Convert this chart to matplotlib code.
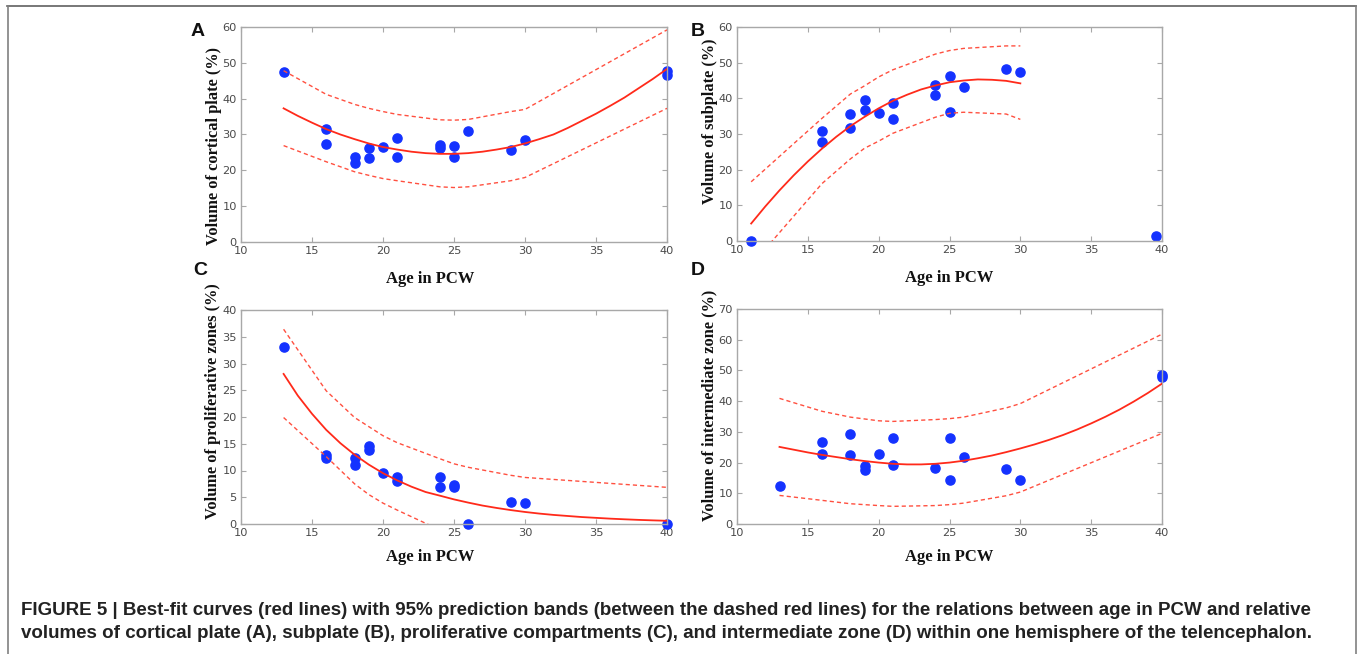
import matplotlib
matplotlib.use("Agg")
import matplotlib.pyplot as plt
from matplotlib.lines import Line2D

W, H = 1358, 654

# ---------------- data ----------------
# Panel A: cortical plate
age_A = [13, 16, 16, 18, 18, 19, 19, 20, 21, 21, 24, 24, 25, 25, 26, 29, 30, 40, 40]
cp_A = [47.5, 31.5, 27.3, 23.7, 22.0, 26.3, 23.5, 26.4, 29.0, 23.8, 27.0, 26.3,
        26.9, 23.8, 31.0, 25.6, 28.6, 47.8, 46.5]
fitx_A = list(range(13, 41))
fity_A = [37.3, 35.2, 33.3, 31.5, 30.0, 28.7, 27.5, 26.5, 25.8, 25.2, 24.8, 24.6,
          24.6, 24.8, 25.2, 25.8, 26.5, 27.5, 28.7, 30.0, 31.8, 33.8, 35.8, 38.0,
          40.3, 42.9, 45.5, 48.3]
bandx_A = [13, 16, 18, 19, 20, 21, 24, 25, 26, 29, 30, 40]
upper_A = [47.8, 41.2, 38.4, 37.3, 36.4, 35.6, 34.1, 34.0, 34.2, 36.4, 37.0, 59.2]
lower_A = [26.9, 22.4, 19.6, 18.6, 17.7, 17.1, 15.4, 15.2, 15.4, 17.1, 18.0, 37.3]

# Panel B: subplate
age_B = [11, 16, 16, 18, 18, 19, 19, 20, 21, 21, 24, 24, 25, 25, 26, 29, 30, 39.6]
sp_B = [0.0, 30.9, 27.8, 35.5, 31.6, 39.6, 36.75, 36.0, 38.6, 34.2, 43.8, 41.0,
        46.2, 36.1, 43.3, 48.2, 47.3, 1.3]
fitx_B = list(range(11, 31))
fity_B = [4.9, 9.7, 14.2, 18.4, 22.3, 25.9, 29.2, 32.2, 34.8, 37.2, 39.3, 41.0,
          42.5, 43.6, 44.5, 45.0, 45.3, 45.2, 44.9, 44.2]
bandx_B = [11, 16, 18, 19, 20, 21, 24, 25, 26, 29, 30]
upper_B = [16.6, 34.4, 41.2, 43.5, 46.0, 48.0, 52.4, 53.4, 54.0, 54.7, 54.7]
lower_B = [-6.8, 16.1, 23.0, 26.0, 28.0, 30.2, 34.7, 35.8, 36.1, 35.6, 34.1]

# Panel C: proliferative zones
age_C = [13, 16, 16, 18, 18, 19, 19, 20, 21, 21, 24, 24, 25, 25, 26, 29, 30, 40]
pz_C = [33.1, 12.9, 12.25, 12.25, 11.1, 14.5, 13.75, 9.45, 8.7, 8.0, 8.7, 6.85,
        7.3, 7.0, 0.0, 4.1, 3.85, 0.0]
fitx_C = list(range(13, 41))
fity_C = [28.05, 24.0, 20.6, 17.6, 15.1, 12.95, 11.1, 9.5, 8.15, 6.98, 5.98, 5.3,
          4.6, 4.0, 3.45, 3.0, 2.6, 2.25, 1.95, 1.7, 1.5, 1.3, 1.15, 1.0, 0.88,
          0.77, 0.68, 0.6]
bandx_C = [13, 16, 18, 19, 20, 21, 24, 25, 26, 29, 30, 40]
upper_C = [36.4, 24.9, 19.9, 18.2, 16.5, 15.2, 12.2, 11.25, 10.6, 9.1, 8.7, 6.85]
lower_C = [19.9, 12.6, 7.5, 5.5, 3.9, 2.6, -1.1, -1.6, -2.2, -3.6, -4.0, -5.8]

# Panel D: intermediate zone
age_D = [13, 16, 16, 18, 18, 19, 19, 20, 21, 21, 24, 25, 25, 26, 29, 30, 40, 40]
iz_D = [12.3, 26.7, 22.8, 29.4, 22.35, 18.8, 17.5, 22.8, 28.0, 19.2, 18.3, 27.9,
        14.2, 21.7, 17.9, 14.2, 48.4, 47.9]
fitx_D = list(range(13, 41))
fity_D = [25.1, 24.2, 23.3, 22.5, 21.8, 21.1, 20.5, 20.0, 19.6, 19.4, 19.4, 19.6,
          20.0, 20.6, 21.4, 22.3, 23.4, 24.6, 25.9, 27.35, 28.95, 30.75, 32.75,
          34.9, 37.25, 39.85, 42.65, 45.7]
bandx_D = [13, 16, 18, 19, 20, 21, 24, 25, 26, 29, 30, 40]
upper_D = [40.9, 36.7, 34.8, 34.2, 33.6, 33.4, 34.0, 34.3, 34.8, 37.8, 39.2, 61.8]
lower_D = [9.3, 7.7, 6.6, 6.3, 6.0, 5.75, 6.0, 6.3, 6.8, 9.2, 10.4, 29.5]

xticks = [10, 15, 20, 25, 30, 35, 40]
ylabels = ["Volume of cortical plate (%)", "Volume of subplate (%)",
           "Volume of proliferative zones (%)", "Volume of intermediate zone (%)"]
letters = ["A", "B", "C", "D"]
caption = ("FIGURE 5 | Best-fit curves (red lines) with 95% prediction bands (between the dashed red lines) "
           "for the relations between age in PCW and relative\n"
           "volumes of cortical plate (A), subplate (B), proliferative compartments (C), and intermediate "
           "zone (D) within one hemisphere of the telencephalon.")

# ---------------- figure ----------------
fig = plt.figure(figsize=(W / 100, H / 100), dpi=100)


def fx(px):
    return px / W


def fy(py):
    return 1 - py / H


# axes boxes in pixels: left, top, right, bottom
boxes = [(241, 27, 667, 242), (737, 27, 1162, 241),
         (241, 310, 667, 524), (737, 309, 1162, 524)]
ylims = [(0, 60, 10), (0, 60, 10), (0, 40, 5), (0, 70, 10)]
ylab_pos = [(-0.045, 0.447), (-0.045, 0.56), (-0.047, 0.575), (-0.047, 0.553)]
xlab_pos = [(0.444, -0.137), (0.5, -0.137), (0.444, -0.117), (0.5, -0.117)]
letter_pos = [(198, 32), (698, 32), (200, 271), (698, 271)]

panels = [
    (age_A, cp_A, fitx_A, fity_A, bandx_A, upper_A, lower_A),
    (age_B, sp_B, fitx_B, fity_B, bandx_B, upper_B, lower_B),
    (age_C, pz_C, fitx_C, fity_C, bandx_C, upper_C, lower_C),
    (age_D, iz_D, fitx_D, fity_D, bandx_D, upper_D, lower_D),
]

blue = "#1432ff"
red = "#ff2a1a"
dred = "#ff5040"
spine_c = "#a8a8a8"

for i, (ages, vals, fxs, fys, bx, up, lo) in enumerate(panels):
    l, t, r, b = boxes[i]
    ax = fig.add_axes([fx(l), fy(b), (r - l) / W, (b - t) / H])
    ax.plot(ages, vals, "o", color=blue, ms=6.6, mec=blue, zorder=2, clip_on=False)
    ax.plot(fxs, fys, "-", color=red, lw=1.3, zorder=3)
    ax.plot(bx, up, "--", color=dred, lw=1.0, dashes=(3, 2.2), zorder=3)
    ax.plot(bx, lo, "--", color=dred, lw=1.0, dashes=(3, 2.2), zorder=3)
    y0, y1, ys = ylims[i]
    ax.set_xlim(10, 40)
    ax.set_ylim(y0, y1)
    ax.set_xticks(xticks)
    ax.set_yticks(list(range(y0, y1 + 1, ys)))
    ax.tick_params(direction="in", top=True, right=True, length=3.5, width=0.8,
                   color=spine_c, labelcolor="#4a4a4a", labelsize=8.2, pad=3)
    for lab in ax.get_xticklabels() + ax.get_yticklabels():
        lab.set_fontfamily("DejaVu Sans")
    for s in ax.spines.values():
        s.set_color(spine_c)
        s.set_linewidth(1.0)
    ax.set_xlabel("Age in PCW", family="Liberation Serif", fontweight="bold",
                  fontsize=12, color="#111111")
    ax.xaxis.set_label_coords(*xlab_pos[i])
    ax.set_ylabel(ylabels[i], family="Liberation Serif", fontweight="bold",
                  fontsize=11.8, color="#111111")
    ax.yaxis.set_label_coords(*ylab_pos[i])
    lx, ly = letter_pos[i]
    fig.text(fx(lx), fy(ly), letters[i], family="Liberation Sans", fontweight="bold",
             fontsize=14, ha="center", va="center", color="#111111")

fig.text(fx(21), fy(602), caption, family="Liberation Sans", fontweight="bold",
         fontsize=13.5, ha="left", va="top", color="#222222", linespacing=1.47)

# outer frame (top, left, right)
frame_c = "#808080"
fig.add_artist(Line2D([fx(7), fx(1356)], [fy(6), fy(6)], color="#606060", lw=1.2))
fig.add_artist(Line2D([fx(7.5), fx(7.5)], [fy(6), fy(654)], color=frame_c, lw=1.2))
fig.add_artist(Line2D([fx(1355.5), fx(1355.5)], [fy(6), fy(654)], color=frame_c, lw=1.2))

fig.savefig("out.png", dpi=100)
